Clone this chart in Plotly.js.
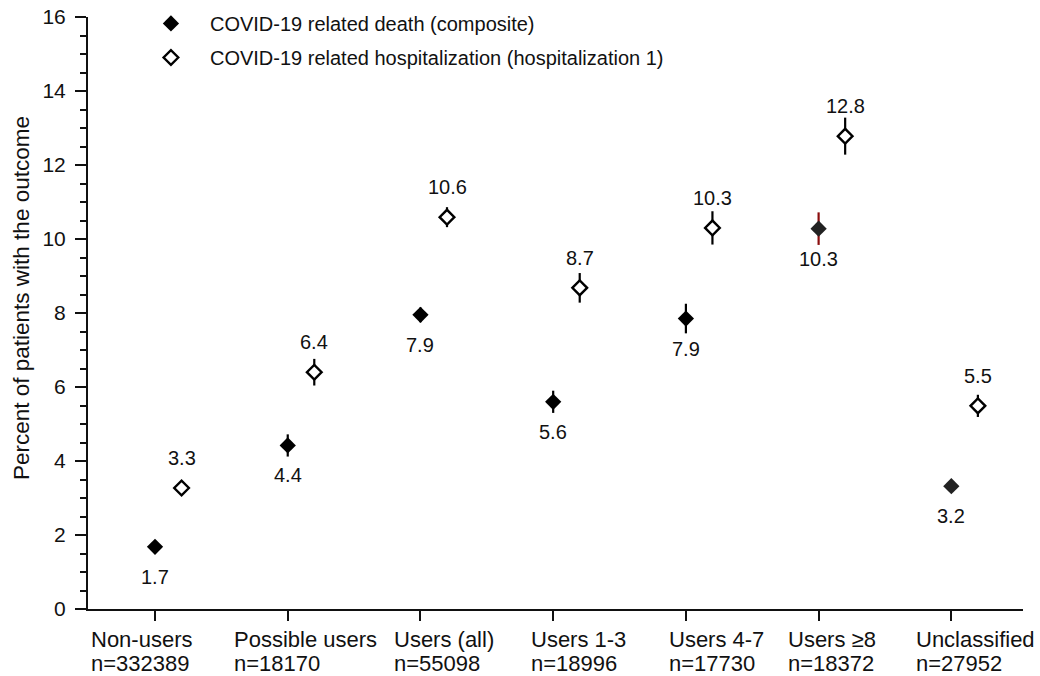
<!DOCTYPE html>
<html>
<head>
<meta charset="utf-8">
<script src="https://cdn.plot.ly/plotly-3.0.1.min.js"></script>
<style>html,body{margin:0;padding:0;background:#fff;}#chart{width:1040px;height:676px;}</style>
</head>
<body>
<div id="chart"></div>
<script>
// ---- data ----
var categories = ["Non-users", "Possible users", "Users (all)", "Users 1-3", "Users 4-7", "Users \u22658", "Unclassified"];
var sampleSizes = ["n=332389", "n=18170", "n=55098", "n=18996", "n=17730", "n=18372", "n=27952"];
var deathValues = [1.68, 4.42, 7.95, 5.6, 7.85, 10.28, 3.32];
var deathErrors = [0.1, 0.3, 0.2, 0.3, 0.4, 0.44, 0.15];
var deathLabels = ["1.7", "4.4", "7.9", "5.6", "7.9", "10.3", "3.2"];
var hospValues = [3.27, 6.4, 10.59, 8.68, 10.3, 12.78, 5.49];
var hospErrors = [0.15, 0.36, 0.27, 0.4, 0.45, 0.5, 0.3];
var hospLabels = ["3.3", "6.4", "10.6", "8.7", "10.3", "12.8", "5.5"];
var yTicks = [0, 2, 4, 6, 8, 10, 12, 14, 16];

// ---- styling constants ----
var FONT = "Liberation Sans, Arial, sans-serif";
var HOSP_OFFSET = 0.2;
var highlightIndex = 5;
var catLabelLeft = [-66, -56, -28, -24, -19, -33, -37];

var idx = categories.map(function (_, i) { return i; });
var deathX = idx.slice();
var hospX = idx.map(function (i) { return i + HOSP_OFFSET; });
var deathColors = idx.map(function (i) { return (i === 5 || i === 6) ? "#222222" : "#000000"; });
function notHi(_, i) { return i !== highlightIndex; }

var traces = [
  {
    type: "scatter", mode: "markers", name: "COVID-19 related death (composite)",
    x: deathX.filter(notHi), y: deathValues.filter(notHi),
    error_y: { type: "data", array: deathErrors.filter(notHi), color: "#000", thickness: 2.2, width: 0 },
    marker: { symbol: "diamond", size: 12.5, color: deathColors.filter(notHi), line: { width: 0 } },
    legendgroup: "a", cliponaxis: false
  },
  {
    type: "scatter", mode: "markers", name: "COVID-19 related death (composite)", showlegend: false,
    x: [deathX[highlightIndex]], y: [deathValues[highlightIndex]],
    error_y: { type: "data", array: [deathErrors[highlightIndex]], color: "#8b0d0d", thickness: 2.2, width: 0 },
    marker: { symbol: "diamond", size: 12.5, color: deathColors[highlightIndex], line: { width: 0 } },
    legendgroup: "a", cliponaxis: false
  },
  {
    type: "scatter", mode: "markers", name: "COVID-19 related hospitalization (hospitalization 1)",
    x: hospX, y: hospValues,
    error_y: { type: "data", array: hospErrors, color: "#000", thickness: 2.2, width: 0 },
    marker: { symbol: "diamond", size: 11.3, color: "#ffffff", line: { width: 2.4, color: "#000" } },
    legendgroup: "b", cliponaxis: false
  }
];

var annotations = [];
idx.forEach(function (i) {
  annotations.push({ x: deathX[i], y: deathValues[i], xref: "x", yref: "y", text: deathLabels[i], showarrow: false, yshift: -30, font: { family: FONT, size: 20, color: "#111" } });
  annotations.push({ x: hospX[i], y: hospValues[i], xref: "x", yref: "y", text: hospLabels[i], showarrow: false, yshift: 30, font: { family: FONT, size: 20, color: "#111" } });
  annotations.push({ x: i, y: 0, xref: "x", yref: "y", xanchor: "left", yanchor: "middle", xshift: catLabelLeft[i], yshift: -30.2,
    text: categories[i], showarrow: false, font: { family: FONT, size: 22, color: "#111" } });
  annotations.push({ x: i, y: 0, xref: "x", yref: "y", xanchor: "left", yanchor: "middle", xshift: catLabelLeft[i], yshift: -54.5,
    text: sampleSizes[i], showarrow: false, font: { family: FONT, size: 22, color: "#111" } });
});
annotations.push({
  x: -0.0711, y: 0.5245, xref: "paper", yref: "paper", xanchor: "center", yanchor: "middle", textangle: -90,
  text: "Percent of patients with the outcome", showarrow: false, font: { family: FONT, size: 22.5, color: "#111" }
});

var layout = {
  width: 1040, height: 676,
  margin: { l: 88, r: 17, t: 17, b: 67, autoexpand: false },
  paper_bgcolor: "#fff", plot_bgcolor: "#fff",
  font: { family: FONT, size: 20, color: "#111" },
  showlegend: true,
  legend: {
    x: 0.047, y: 1.022, xanchor: "left", yanchor: "top",
    font: { family: FONT, size: 20, color: "#111" },
    itemwidth: 68, tracegroupgap: 5, traceorder: "grouped", bgcolor: "rgba(0,0,0,0)"
  },
  xaxis: {
    range: [-0.505, 6.54], tickmode: "array", tickvals: idx, ticktext: idx.map(function () { return ""; }),
    ticks: "outside", ticklen: 10, tickwidth: 2, tickcolor: "#111",
    showline: true, linewidth: 2, linecolor: "#111", showgrid: false, zeroline: false, fixedrange: true
  },
  yaxis: {
    range: [0, 16], tickmode: "array", tickvals: yTicks,
    ticks: "outside", ticklen: 11, tickwidth: 2, tickcolor: "#111", ticklabelstandoff: 5,
    minor: { dtick: 0.5, ticks: "outside", ticklen: 6, tickwidth: 2, tickcolor: "#111", showgrid: false },
    showline: true, linewidth: 2, linecolor: "#111", showgrid: false, zeroline: false,
    tickfont: { family: FONT, size: 21, color: "#111" },
    fixedrange: true
  },
  annotations: annotations
};

Plotly.newPlot("chart", traces, layout, { displayModeBar: false, staticPlot: true });
</script>
</body>
</html>
